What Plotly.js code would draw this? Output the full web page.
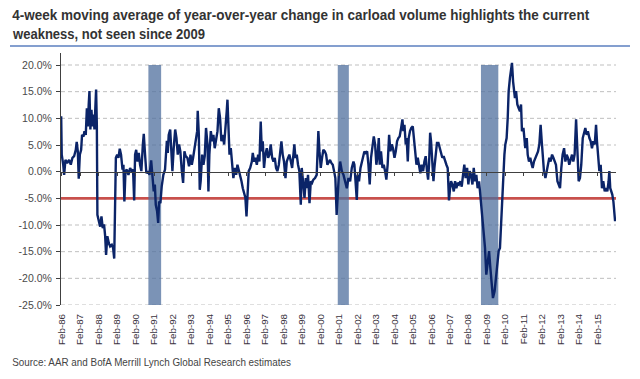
<!DOCTYPE html>
<html><head><meta charset="utf-8">
<script src="https://cdn.plot.ly/plotly-3.0.1.min.js"></script>
<style>html,body{margin:0;padding:0;background:#fff}#chart{width:640px;height:379px}</style>
</head><body><div id="chart"></div>
<script>
// Decimal-year position of each reading (weekly series)
const weekYears = [
1986.05,1986.08,1986.16,1986.21,1986.28,1986.37,1986.48,1986.57,1986.66,1986.75,1986.84,1986.89,1986.95,
1987.00,1987.06,1987.13,1987.18,1987.26,1987.31,1987.38,1987.44,1987.49,1987.54,1987.58,1987.63,1987.69,1987.74,1987.80,1987.85,1987.90,1987.94,1987.98,
1988.01,1988.09,1988.16,1988.23,1988.30,1988.37,1988.43,1988.48,1988.55,1988.63,1988.70,1988.79,1988.86,1988.92,1988.95,
1989.01,1989.08,1989.15,1989.22,1989.29,1989.37,1989.42,1989.47,1989.53,1989.60,1989.69,1989.78,1989.87,1989.94,
1990.00,1990.05,1990.11,1990.18,1990.25,1990.32,1990.39,1990.47,1990.52,1990.59,1990.66,1990.74,1990.83,1990.92,1990.99,
1991.06,1991.12,1991.17,1991.24,1991.30,1991.35,1991.42,1991.49,1991.58,1991.67,1991.77,1991.82,1991.87,1991.95,
1992.00,1992.07,1992.14,1992.22,1992.29,1992.36,1992.43,1992.50,1992.58,1992.65,1992.72,1992.79,1992.88,1992.97,
1993.05,1993.12,1993.19,1993.26,1993.33,1993.41,1993.44,1993.50,1993.55,1993.60,1993.68,1993.75,1993.82,1993.89,1993.97,
1994.02,1994.07,1994.15,1994.22,1994.29,1994.36,1994.44,1994.51,1994.58,1994.65,1994.72,1994.80,1994.87,1994.94,
1995.01,1995.05,1995.10,1995.16,1995.23,1995.30,1995.37,1995.45,1995.52,1995.59,1995.66,1995.73,1995.81,1995.88,1995.95,
1996.02,1996.08,1996.13,1996.20,1996.28,1996.37,1996.42,1996.49,1996.56,1996.64,1996.71,1996.78,1996.85,1996.91,1996.96,
1997.03,1997.10,1997.18,1997.25,1997.32,1997.39,1997.47,1997.54,1997.61,1997.68,1997.75,1997.83,1997.90,1997.97,
1998.04,1998.11,1998.19,1998.26,1998.33,1998.40,1998.48,1998.55,1998.62,1998.67,1998.73,1998.80,1998.87,1998.94,
1999.02,1999.07,1999.14,1999.22,1999.29,1999.34,1999.41,1999.49,1999.56,1999.63,1999.70,1999.79,1999.88,1999.97,
2000.03,2000.10,2000.17,2000.24,2000.32,2000.39,2000.46,2000.53,2000.60,2000.68,2000.75,2000.82,2000.89,2000.96,
2001.02,2001.09,2001.15,2001.24,2001.33,2001.42,2001.51,2001.60,2001.69,2001.78,2001.87,2001.92,2001.99,
2002.05,2002.10,2002.17,2002.25,2002.32,2002.39,2002.46,2002.53,2002.61,2002.68,2002.75,2002.82,2002.89,2002.97,
2003.04,2003.11,2003.18,2003.24,2003.29,2003.36,2003.44,2003.51,2003.58,2003.65,2003.72,2003.80,2003.87,2003.94,
2004.01,2004.09,2004.16,2004.23,2004.30,2004.37,2004.45,2004.52,2004.57,2004.63,2004.70,2004.75,2004.81,2004.86,2004.93,
2005.00,2005.08,2005.15,2005.20,2005.28,2005.35,2005.42,2005.49,2005.56,2005.64,2005.71,2005.78,2005.85,2005.91,2005.96,
2006.02,2006.07,2006.14,2006.20,2006.25,2006.32,2006.39,2006.47,2006.54,2006.61,2006.68,2006.75,2006.83,2006.90,2006.97,
2007.04,2007.10,2007.15,2007.22,2007.30,2007.37,2007.44,2007.51,2007.58,2007.66,2007.73,2007.80,2007.87,2007.94,
2008.02,2008.09,2008.16,2008.23,2008.31,2008.38,2008.45,2008.52,2008.59,2008.67,2008.72,2008.77,2008.85,2008.92,2008.99,
2009.06,2009.14,2009.21,2009.28,2009.35,2009.42,2009.51,2009.59,2009.66,2009.73,2009.80,2009.86,2009.93,2009.98,
2010.04,2010.09,2010.16,2010.22,2010.27,2010.34,2010.40,2010.45,2010.51,2010.56,2010.61,2010.67,2010.74,2010.81,2010.88,2010.94,2010.99,
2011.07,2011.12,2011.17,2011.25,2011.30,2011.37,2011.44,2011.52,2011.57,2011.64,2011.71,2011.79,2011.86,2011.93,
2012.00,2012.06,2012.11,2012.18,2012.26,2012.33,2012.40,2012.47,2012.54,2012.62,2012.69,2012.76,2012.83,2012.91,2012.98,
2013.05,2013.12,2013.19,2013.27,2013.34,2013.41,2013.48,2013.55,2013.63,2013.70,2013.77,2013.84,2013.92,2013.99,
2014.06,2014.13,2014.20,2014.28,2014.35,2014.42,2014.49,2014.56,2014.64,2014.71,2014.78,2014.85,2014.93,
2015.00,2015.05,2015.11,2015.18,2015.25,2015.32,2015.39,2015.47,2015.54,2015.61,2015.68,2015.72,2015.77,2015.83,2015.88,2015.94,2016.00,2016.03
];
// 4-week moving average of y/y change in carloads, %
const carloadYoY = [
10.4,3.2,1.3,-0.6,2.2,1.6,2.2,1.3,2.6,2.9,4.1,5.6,3.8,
-1.3,3.2,4.1,6.9,6.6,7.6,6.9,11.9,8.5,12.6,15.1,7.9,11.6,8.5,10.7,7.9,12.6,15.4,8.8,
-8.1,-9.3,-10.3,-8.4,-10.6,-9.9,-12.1,-15.6,-12.1,-13.4,-14,-13.7,-14.3,-16.3,-10.6,
2.6,3.2,2.6,4.3,3.2,0.4,1.3,-5.6,0.1,0.4,-0.6,0.7,0.1,0.4,
-5.4,3.2,4.1,1.9,3.5,1.3,0.1,5.1,7.1,3.2,-0.3,0.1,-0.6,2.1,-1.8,
-3.7,-2.4,-6.2,-7.4,-9.6,-5.6,-5.9,-2.8,-0.6,0.4,5.8,3.5,6.9,7.9,
3.8,0.1,4.4,7.9,6.3,3.2,5.1,3.8,0.1,-2.1,3.8,2.9,2.6,1.0,
3.2,1.3,2.6,4.4,5.7,7.6,11.4,6.9,-3.4,-1.8,3.2,1.3,2.9,8.2,5.1,
-3.7,3.2,7.6,5.7,6.9,4.4,6.3,7.6,11.9,10.1,5.7,6.9,5.1,7.6,
11.3,13.5,6.9,3.2,4.4,1.9,-1.2,0.7,-0.6,1.3,0.4,-0.9,-1.8,-3.1,-4.3,
-4.9,-8.4,-3.1,0.1,0.7,1.9,3.5,1.9,2.6,1.3,3.2,1.9,9.4,3.8,5.7,
0.7,3.2,4.4,2.6,3.2,5.1,2.6,1.9,2.6,0.7,0.1,1.3,3.2,5.7,
3.2,1.9,-1.2,1.9,2.6,3.2,1.9,0.7,3.2,5.1,2.6,3.2,1.3,0.1,
-6.2,0.7,-1.8,-4.9,-1.2,-3.1,-0.6,-5.9,-1.8,-2.1,-1.5,-1.2,-0.6,7.6,
3.8,0.7,2.6,4.1,3.8,3.2,1.3,1.9,2.2,1.6,1.3,0.1,-1.2,-8.1,
-3.1,0.1,1.9,0.1,-0.6,-1.8,-3.1,-1.2,-1.8,0.7,1.9,1.3,-1.8,
-5.3,-0.6,-1.8,0.7,1.9,2.6,3.8,3.5,3.8,1.3,-2.4,2.6,4.4,6.6,
5.1,1.3,3.2,6.3,1.3,3.8,0.7,1.3,0.1,-1.5,1.3,6.9,3.8,5.1,
4.4,2.6,3.8,5.7,6.3,6.6,8.2,9.8,7.6,8.8,5.1,6.3,1.9,6.3,7.6,
8.2,8.5,5.7,3.2,1.3,2.6,0.7,-0.3,1.3,0.1,1.9,2.9,0.1,-1.5,1.3,
7.3,5.7,1.9,-1.8,0.7,3.2,5.4,5.4,4.4,3.8,2.6,2.9,1.9,1.3,0.7,
-5.4,-3.1,-1.8,-2.4,-3.7,-1.8,-3.1,-2.1,-2.4,-1.8,-2.8,-0.6,1.3,-1.2,
0.7,-2.4,0.1,-0.6,-2.4,0.7,-1.8,-0.6,-3.1,-1.8,-3.7,-4.9,-7.4,-11.2,-14.3,
-19.3,-16.2,-14.9,-18.1,-21.8,-23.7,-22.4,-19.3,-16.8,-14.9,-14.3,-9.9,-4.9,0.1,
3.2,5.1,6.3,10.1,15.1,17.6,19.4,20.4,16.9,15.1,13.8,15.1,12.6,11.9,11.3,12.6,7.6,
8.2,5.7,4.4,6.3,3.2,1.9,2.6,1.3,0.7,1.9,2.6,3.2,3.8,5.1,
8.8,5.7,3.2,0.1,-1.2,0.1,1.3,2.6,1.9,3.2,2.6,1.9,1.3,-1.8,-2.4,
-3.1,0.7,3.2,4.4,1.9,3.2,2.6,1.3,2.6,3.2,1.9,3.2,9.8,3.2,
-1.8,-1.2,1.3,6.3,7.6,8.2,6.9,7.6,6.3,5.7,4.4,5.7,5.1,
8.8,5.7,2.6,0.1,1.3,-3.1,-1.8,-3.7,-3.1,-3.7,-1.8,0.1,-3.1,-3.7,-4.3,-5.6,-7.4,-9.3
];
// Tick years (labels at February of each year)
const tickYears = [1986,1987,1988,1989,1990,1991,1992,1993,1994,1995,1996,1997,1998,1999,2000,2001,2002,2003,2004,2005,2006,2007,2008,2009,2010,2011,2012,2013,2014,2015];
const tickLabels = ['Feb-86','Feb-87','Feb-88','Feb-89','Feb-90','Feb-91','Feb-92','Feb-93','Feb-94','Feb-95','Feb-96','Feb-97','Feb-98','Feb-99','Feb-00','Feb-01','Feb-02','Feb-03','Feb-04','Feb-05','Feb-06','Feb-07','Feb-08','Feb-09','Feb-10','Feb-11','Feb-12','Feb-13','Feb-14','Feb-15'];
const yTickValues = [-25,-20,-15,-10,-5,0,5,10,15,20];
const yTickLabels = ['-25.0%','-20.0%','-15.0%','-10.0%','-5.0%','0.0%','5.0%','10.0%','15.0%','20.0%'];
// Recession shading (as drawn)
const recessionStart = [1990.77, 2001.02, 2008.77];
const recessionEnd   = [1991.46, 2001.62, 2009.71];
const shadeTop = 20, shadeBottom = -25;
const threshold = -5;
const titleLines = ['4-week moving average of year-over-year change in carload volume highlights the current',
                    'weakness, not seen since 2009'];
const sourceText = 'Source: AAR and BofA Merrill Lynch Global Research estimates';

const FEB = 31/365;
const tickVals = tickYears.map(y => y + FEB);
const yRange = [-25, 22.25];
const xRange = [1986.04, 2016.08];
const sans = "'Liberation Sans',Arial,sans-serif";

const traces = [
  {x: weekYears, y: carloadYoY, xaxis: 'x2', yaxis: 'y', type: 'scatter', mode: 'lines',
   line: {width: 0}, opacity: 0, hoverinfo: 'skip', showlegend: false},
  {x: weekYears, y: carloadYoY, xaxis: 'x', yaxis: 'y', type: 'scatter', mode: 'lines',
   line: {color: '#0b2468', width: 2.4}, showlegend: false}
];

// Shapes, all below the data line: dashed grid, then the -5% line, then shading on top of both
const shapes = [];
yTickValues.filter(v => v !== 0).forEach(v => shapes.push({
  type: 'line', xref: 'paper', yref: 'y', x0: 0, x1: 1, y0: v, y1: v,
  line: {color: '#bfbfbf', width: 1, dash: '4px,3px'}, layer: 'below'
}));
shapes.push({type: 'line', xref: 'paper', yref: 'y', x0: 0, x1: 1, y0: threshold, y1: threshold,
  line: {color: '#c8504c', width: 2.8}, layer: 'below'});
recessionStart.forEach((s, i) => shapes.push({
  type: 'rect', xref: 'x', yref: 'y', x0: s, x1: recessionEnd[i], y0: shadeBottom, y1: shadeTop,
  fillcolor: 'rgba(79,111,158,0.75)', line: {width: 0}, layer: 'below'
}));
shapes.push({type: 'line', xref: 'paper', yref: 'paper', x0: -0.0919, x1: 1.0252, y0: 1.0278, y1: 1.0278,
  line: {color: '#5b7fbf', width: 1.5}});

const layout = {
  width: 640, height: 379,
  margin: {l: 61, r: 24, t: 53, b: 74, pad: 0},
  paper_bgcolor: '#ffffff', plot_bgcolor: 'rgba(0,0,0,0)',
  showlegend: false,
  xaxis: {
    range: xRange, tickmode: 'array', tickvals: tickVals, ticktext: tickLabels,
    tickangle: -90, ticks: '', showgrid: false, zeroline: false, showline: false,
    tickfont: {family: sans, size: 9.8, color: '#3a3340'}, ticklabelstandoff: 6
  },
  xaxis2: {
    overlaying: 'x', matches: 'x', anchor: 'free',
    position: (0 - yRange[0]) / (yRange[1] - yRange[0]),
    range: xRange, tickmode: 'array', tickvals: tickVals, ticks: 'outside', ticklen: 3,
    tickcolor: '#404040', tickwidth: 1, showticklabels: false, showgrid: false, zeroline: false,
    showline: true, linecolor: '#404040', linewidth: 1
  },
  yaxis: {
    range: yRange, tickmode: 'array', tickvals: yTickValues, ticktext: yTickLabels,
    showgrid: false, zeroline: false, showline: true, linecolor: '#404040', linewidth: 1,
    ticks: 'outside', ticklen: 4, tickcolor: '#404040',
    tickfont: {family: sans, size: 10.5, color: '#4a4a4a'}, ticklabelstandoff: 2
  },
  shapes: shapes,
  annotations: [
    {text: titleLines[0], xref: 'paper', yref: 'paper', x: -0.0883, y: 1.152, xanchor: 'left', yanchor: 'middle',
     showarrow: false, font: {family: sans, size: 13, color: '#333333', weight: 'bold'}},
    {text: titleLines[1], xref: 'paper', yref: 'paper', x: -0.0883, y: 1.079, xanchor: 'left', yanchor: 'middle',
     showarrow: false, font: {family: sans, size: 13, color: '#333333', weight: 'bold'}},
    {text: sourceText, xref: 'paper', yref: 'paper', x: -0.0883, y: -0.226, xanchor: 'left', yanchor: 'middle',
     showarrow: false, font: {family: sans, size: 10.5, color: '#444444'}}
  ]
};

// Condensed look: scale each text line to the width / height it has in the reference
const fitBoxes = {};
fitBoxes[titleLines[0]] = {w: 578, sy: 15 / 13};
fitBoxes[titleLines[1]] = {w: 193, sy: 15 / 13};
fitBoxes[sourceText] = {w: 279, sy: 1.05};
const leftEdge = 12;

Plotly.newPlot('chart', traces, layout, {staticPlot: true, displayModeBar: false}).then(() => {
  const host = document.getElementById('chart').getBoundingClientRect();
  document.querySelectorAll('#chart text.annotation-text').forEach(el => {
    const f = fitBoxes[el.textContent];
    if (!f) return;
    const b = el.getBBox();
    const r = el.getBoundingClientRect();
    const offX = r.left - b.x;                 // page offset of local coords
    const targetX = host.left + leftEdge - offX;
    const cy = b.y + b.height / 2;
    const sx = f.w / b.width;
    el.setAttribute('transform',
      'translate(' + targetX + ',' + cy + ') scale(' + sx + ',' + f.sy + ') translate(' + (-b.x) + ',' + (-cy) + ')');
  });
});
</script>
</body></html>
